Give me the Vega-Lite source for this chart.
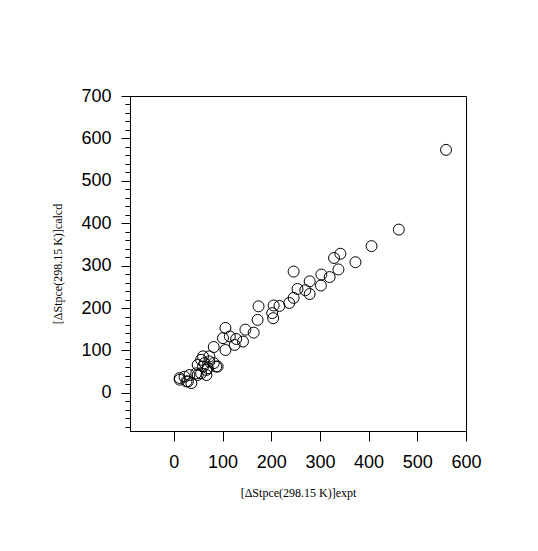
{
  "$schema": "https://vega.github.io/schema/vega-lite/v6.json",
  "autosize": {"type": "none"},
  "width": 336,
  "height": 335,
  "padding": {"left": 130, "top": 96, "right": 72, "bottom": 120},
  "background": "white",
  "config": {
    "view": {"stroke": "black", "strokeWidth": 1},
    "axis": {"domainColor": "black", "tickColor": "black", "labelColor": "black", "titleColor": "black", "grid": false}
  },
  "data": {"values": [
    {"expt": 559, "calcd": 573}, {"expt": 462, "calcd": 385}, {"expt": 406, "calcd": 346},
    {"expt": 373, "calcd": 308}, {"expt": 342, "calcd": 328}, {"expt": 329, "calcd": 318},
    {"expt": 338, "calcd": 291}, {"expt": 246, "calcd": 286}, {"expt": 303, "calcd": 279},
    {"expt": 320, "calcd": 273}, {"expt": 302, "calcd": 253}, {"expt": 279, "calcd": 263},
    {"expt": 254, "calcd": 245}, {"expt": 270, "calcd": 242}, {"expt": 279, "calcd": 233},
    {"expt": 246, "calcd": 224}, {"expt": 237, "calcd": 212}, {"expt": 217, "calcd": 205},
    {"expt": 205, "calcd": 206}, {"expt": 174, "calcd": 204}, {"expt": 202, "calcd": 188},
    {"expt": 204, "calcd": 176}, {"expt": 172, "calcd": 172}, {"expt": 147, "calcd": 149},
    {"expt": 164, "calcd": 142}, {"expt": 128, "calcd": 127}, {"expt": 142, "calcd": 121},
    {"expt": 115, "calcd": 133}, {"expt": 106, "calcd": 153}, {"expt": 101, "calcd": 129},
    {"expt": 125, "calcd": 113}, {"expt": 82, "calcd": 108}, {"expt": 106, "calcd": 101},
    {"expt": 60, "calcd": 86}, {"expt": 73, "calcd": 86}, {"expt": 56, "calcd": 78},
    {"expt": 73, "calcd": 74}, {"expt": 82, "calcd": 70}, {"expt": 87, "calcd": 62},
    {"expt": 63, "calcd": 70}, {"expt": 49, "calcd": 66}, {"expt": 67, "calcd": 54},
    {"expt": 70, "calcd": 58}, {"expt": 56, "calcd": 46}, {"expt": 46, "calcd": 46},
    {"expt": 32, "calcd": 42}, {"expt": 22, "calcd": 38}, {"expt": 12, "calcd": 31},
    {"expt": 26, "calcd": 27}, {"expt": 36, "calcd": 23}, {"expt": 49, "calcd": 42},
    {"expt": 67, "calcd": 42}, {"expt": 12, "calcd": 35}, {"expt": 29, "calcd": 27},
    {"expt": 60, "calcd": 62}, {"expt": 90, "calcd": 62}
  ]},
  "mark": {"type": "point", "shape": "circle", "filled": false, "stroke": "black", "strokeWidth": 1, "size": 120, "opacity": 1},
  "encoding": {
    "x": {
      "field": "expt", "type": "quantitative",
      "scale": {"domain": [-90, 600], "nice": false, "zero": false},
      "axis": {
        "values": [0, 100, 200, 300, 400, 500, 600],
        "title": "[ΔStpce(298.15 K)]expt",
        "titleFont": "Liberation Serif", "titleFontSize": 12, "titleFontWeight": "normal",
        "titlePadding": 16,
        "labelFont": "Liberation Sans", "labelFontSize": 18,
        "labelPadding": 12, "tickSize": 10, "labelOverlap": false, "labelFlush": false
      }
    },
    "y": {
      "field": "calcd", "type": "quantitative",
      "scale": {"domain": [-90, 700], "nice": false, "zero": false},
      "axis": {
        "values": [-80, -60, -40, -20, 0, 20, 40, 60, 80, 100, 120, 140, 160, 180, 200, 220, 240, 260, 280, 300, 320, 340, 360, 380, 400, 420, 440, 460, 480, 500, 520, 540, 560, 580, 600, 620, 640, 660, 680, 700],
        "labelExpr": "datum.value % 100 === 0 ? datum.label : ''",
        "tickSize": {"condition": {"test": "datum.value % 100 === 0", "value": 9}, "value": 5},
        "title": "[ΔStpce(298.15 K)]calcd",
        "titleFont": "Liberation Serif", "titleFontSize": 12, "titleFontWeight": "normal",
        "titlePadding": 16,
        "labelFont": "Liberation Sans", "labelFontSize": 18,
        "labelPadding": 10, "labelOverlap": false, "labelFlush": false
      }
    }
  }
}
